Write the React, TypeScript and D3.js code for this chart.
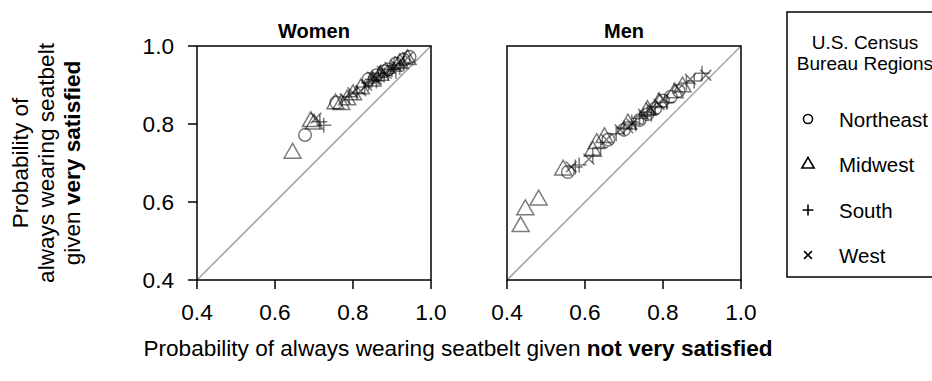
import * as d3 from "d3";

// ─── Data: one point per state, [not very satisfied, very satisfied] ─────

type Pt = [number, number];

const REGIONS = ["Northeast", "Midwest", "South", "West"];
const TICKS = [0.4, 0.6, 0.8, 1.0];

const womenNortheast: Pt[] = [
  [0.677, 0.772], [0.757, 0.855], [0.84, 0.915], [0.86, 0.925], [0.88, 0.935],
  [0.89, 0.94], [0.91, 0.955], [0.93, 0.965], [0.945, 0.972],
];
const womenMidwest: Pt[] = [
  [0.645, 0.725], [0.692, 0.806], [0.70, 0.80], [0.755, 0.852], [0.77, 0.85],
  [0.785, 0.862], [0.80, 0.875], [0.82, 0.89], [0.85, 0.91], [0.87, 0.925],
  [0.92, 0.955], [0.94, 0.965],
];
const womenSouth: Pt[] = [
  [0.715, 0.806], [0.725, 0.797], [0.79, 0.87], [0.81, 0.88], [0.83, 0.895],
  [0.84, 0.905], [0.85, 0.915], [0.86, 0.91], [0.865, 0.92], [0.87, 0.93],
  [0.88, 0.925], [0.89, 0.93], [0.90, 0.94], [0.905, 0.95], [0.91, 0.935],
  [0.92, 0.945], [0.93, 0.955],
];
const womenWest: Pt[] = [
  [0.705, 0.815], [0.78, 0.865], [0.80, 0.88], [0.82, 0.885], [0.835, 0.90],
  [0.85, 0.92], [0.86, 0.915], [0.875, 0.935], [0.885, 0.93], [0.895, 0.945],
  [0.91, 0.95], [0.92, 0.96], [0.94, 0.97],
];

const menNortheast: Pt[] = [
  [0.556, 0.677], [0.66, 0.76], [0.70, 0.785], [0.74, 0.81], [0.76, 0.825],
  [0.78, 0.84], [0.80, 0.86], [0.82, 0.87], [0.84, 0.885],
];
const menMidwest: Pt[] = [
  [0.435, 0.537], [0.447, 0.58], [0.481, 0.605], [0.544, 0.682], [0.62, 0.73],
  [0.63, 0.75], [0.65, 0.765], [0.71, 0.80], [0.76, 0.835], [0.79, 0.855],
  [0.83, 0.88], [0.85, 0.895],
];
const menSouth: Pt[] = [
  [0.575, 0.69], [0.585, 0.695], [0.62, 0.72], [0.64, 0.74], [0.68, 0.775],
  [0.70, 0.79], [0.72, 0.805], [0.73, 0.80], [0.74, 0.815], [0.75, 0.82],
  [0.76, 0.83], [0.77, 0.825], [0.78, 0.845], [0.81, 0.855], [0.86, 0.905],
  [0.88, 0.91], [0.90, 0.93],
];
const menWest: Pt[] = [
  [0.565, 0.69], [0.61, 0.71], [0.655, 0.76], [0.69, 0.785], [0.71, 0.79],
  [0.72, 0.80], [0.75, 0.825], [0.77, 0.84], [0.79, 0.85], [0.80, 0.865],
  [0.84, 0.89], [0.87, 0.915], [0.91, 0.925],
];

const PANELS = [
  { title: "Women", left: 197, series: [womenNortheast, womenMidwest, womenSouth, womenWest] },
  { title: "Men", left: 507, series: [menNortheast, menMidwest, menSouth, menWest] },
];

// ─── Layout ──────────────────────────────────────────────────────────────

const TOP = 46;
const SIZE = 234;
const TICK = 9;
const FONT = "'Liberation Sans', Arial, sans-serif";

const x = d3.scaleLinear().domain([0.4, 1]).range([0, SIZE]);
const y = d3.scaleLinear().domain([0.4, 1]).range([SIZE, 0]);

// R-style pch 1..4 as open strokes; `s` scales the marker
function marker(region: number, s: number): string {
  if (region === 0) {
    return d3.symbol(d3.symbolCircle, Math.PI * (6.3 * s) ** 2)() ?? "";
  }
  if (region === 1) {
    const side = 17 * s;
    return d3.symbol(d3.symbolTriangle, (side * side * Math.sqrt(3)) / 4)() ?? "";
  }
  if (region === 2) {
    const h = 7.5 * s;
    return `M${-h},0H${h}M0,${-h}V${h}`;
  }
  const h = 5.4 * s;
  return `M${-h},${-h}L${h},${h}M${-h},${h}L${h},${-h}`;
}

function Panel({ title, left, series }: (typeof PANELS)[number]) {
  return (
    <g transform={`translate(${left},${TOP})`}>
      <text x={SIZE / 2} y={-8} textAnchor="middle" fontSize={20} fontWeight="bold">
        {title}
      </text>
      <line
        x1={x(0.4)} y1={y(0.4)} x2={x(1)} y2={y(1)}
        stroke="#a6a6a6" strokeWidth={1.6}
      />
      {series.map((pts, ri) =>
        pts.map((p, i) => (
          <path
            key={`${ri}-${i}`}
            d={marker(ri, 1)}
            transform={`translate(${x(p[0])},${y(p[1])})`}
            fill="none"
            stroke="#000"
            strokeOpacity={0.52}
            strokeWidth={1.5}
          />
        )),
      )}
      <rect x={0} y={0} width={SIZE} height={SIZE} fill="none" stroke="#000" strokeWidth={1.5} />
      {TICKS.map((t) => (
        <g key={`x${t}`}>
          <line x1={x(t)} x2={x(t)} y1={SIZE} y2={SIZE + TICK} stroke="#000" strokeWidth={1.5} />
          <text x={x(t)} y={SIZE + 40} textAnchor="middle" fontSize={22.6}>
            {t.toFixed(1)}
          </text>
        </g>
      ))}
      {left === 197 &&
        TICKS.map((t) => (
          <g key={`y${t}`}>
            <line x1={-TICK} x2={0} y1={y(t)} y2={y(t)} stroke="#000" strokeWidth={1.5} />
            <text x={-23} y={y(t) + 8} textAnchor="end" fontSize={22.6}>
              {t.toFixed(1)}
            </text>
          </g>
        ))}
    </g>
  );
}

function Legend() {
  const rowY = [119, 164.5, 210, 255];
  return (
    <g>
      <rect x={787} y={12} width={170} height={265} fill="#fff" stroke="#000" strokeWidth={1.5} />
      <text x={865} y={49} textAnchor="middle" fontSize={19}>U.S. Census</text>
      <text x={865} y={70} textAnchor="middle" fontSize={19}>Bureau Regions</text>
      {REGIONS.map((r, i) => (
        <g key={r}>
          <path
            d={marker(i, 0.72)}
            transform={`translate(808,${rowY[i]})`}
            fill="none"
            stroke="#000"
            strokeWidth={1.6}
          />
          <text x={839} y={rowY[i] + 7.5} fontSize={20.5}>{r}</text>
        </g>
      ))}
    </g>
  );
}

export default function App() {
  const midY = TOP + SIZE / 2;
  return (
    <svg
      width={932}
      height={381}
      style={{ position: "absolute", left: 0, top: 0, background: "#fff" }}
      fontFamily={FONT}
      fill="#000"
    >
      <text transform={`translate(0,${midY}) rotate(-90)`} textAnchor="middle" fontSize={22.6}>
        <tspan x={0} y={28}>Probability of</tspan>
        <tspan x={0} y={54}>always wearing seatbelt</tspan>
        <tspan x={0} y={80}>
          given <tspan fontWeight="bold">very satisfied</tspan>
        </tspan>
      </text>
      {PANELS.map((p) => (
        <Panel key={p.title} {...p} />
      ))}
      <Legend />
      <text x={458} y={356} textAnchor="middle" fontSize={22.6}>
        Probability of always wearing seatbelt given{" "}
        <tspan fontWeight="bold">not very satisfied</tspan>
      </text>
    </svg>
  );
}
